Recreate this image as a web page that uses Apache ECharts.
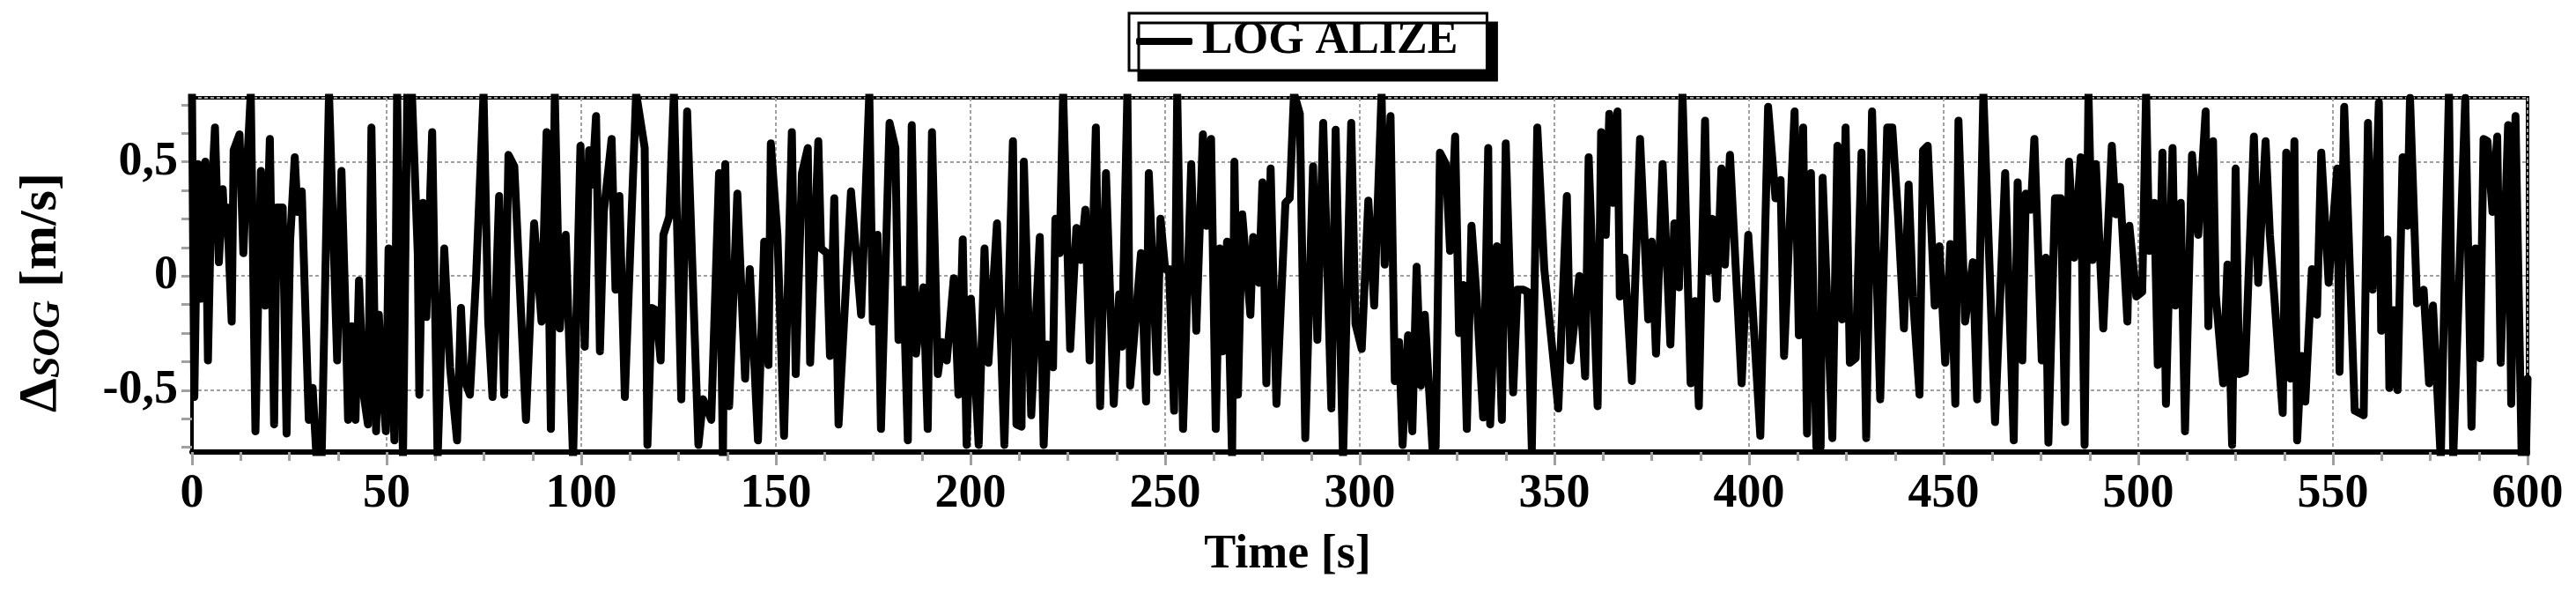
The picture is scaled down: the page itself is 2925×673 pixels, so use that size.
<!DOCTYPE html>
<html>
<head>
    <meta charset="UTF-8">
    <title>LOG ALIZE - Delta SOG</title>
    <script src="https://cdn.jsdelivr.net/npm/echarts/dist/echarts.min.js"></script>
    <style>
        html, body {
            margin: 0;
            padding: 0;
            background-color: #fff;
        }
        #chart {
            width: 2925px;
            height: 673px;
        }
    </style>
</head>
<body>
    <div id="chart"></div>

    <script>
        // [time s, delta SOG m/s], in pieces of about 115 s
        const samples0 = [
            [0, 0.8], [0.6, -0.53], [1.5, 0.49], [2.3, -0.1], [3.4, 0.5], [4.1, -0.37], [4.9, 0.3], [5.9, 0.65],
            [6.9, 0.06], [7.9, 0.38], [8.4, 0.2], [9.0, 0.3], [10.2, -0.2], [10.7, 0.55], [12.2, 0.62], [13.2, 0.1],
            [13.9, 0.4], [15.1, 0.8], [16.3, -0.68], [17.7, 0.46], [18.8, -0.13], [20.0, 0.6], [21.1, -0.65], [21.8, 0.3],
            [23.3, 0.3], [24.3, -0.69], [25.2, 0.15], [26.4, 0.52], [27.1, 0.28], [28.2, 0.37], [30.0, -0.63], [31.0, -0.49],
            [32.0, -0.8], [33.3, -0.8], [35.2, 0.8], [36.1, 0.3], [37.3, -0.37], [38.4, 0.46], [39.5, -0.2], [40.1, -0.63],
            [41.0, -0.22], [42.0, -0.63], [42.9, -0.02], [44.1, -0.52], [45.2, -0.65], [46.1, 0.65], [47.3, -0.68], [48.0, -0.17],
            [48.8, -0.45], [49.8, -0.68], [50.5, 0.12], [52.0, -0.72], [52.7, 0.8], [54.2, -0.8], [55.3, 0.8], [56.5, 0.8],
            [58.0, 0.1], [58.4, -0.52], [59.3, 0.32], [60.2, -0.18], [61.7, 0.63], [63.1, -0.8], [64.8, 0.12], [66.3, -0.4],
            [68.1, -0.72], [69.1, -0.14], [69.9, -0.45], [71.4, -0.52], [73.0, 0.0], [74.9, 0.8], [76.1, -0.2], [77.2, -0.53],
            [78.9, 0.35], [80.2, -0.52], [81.3, 0.53], [82.8, 0.48], [85.8, -0.63], [87.9, 0.23], [89.8, -0.2], [91.1, 0.63],
            [92.2, -0.67], [93.2, 0.8], [94.5, -0.23], [96.0, 0.18], [97.9, -0.8], [99.8, 0.57], [100.9, -0.31], [102.0, 0.55],
            [102.8, 0.4], [103.8, 0.7], [104.8, -0.33], [105.8, 0.28], [107.8, 0.6], [108.8, -0.06], [109.8, 0.35], [111.2, -0.53],
            [113.0, 0.3], [114.1, 0.8]
        ];
        const samples115 = [
            [116.3, 0.56], [117.0, -0.74], [118.1, -0.14], [119.2, -0.15], [120.4, -0.37], [121.1, 0.18], [122.6, 0.26], [123.8, 0.8],
            [125.7, -0.54], [127.2, 0.72], [130.1, -0.74], [131.3, -0.54], [133.4, -0.63], [135.4, 0.45], [136.4, -0.8], [137.0, 0.49],
            [138.0, -0.57], [140.1, 0.36], [142.1, -0.45], [143.3, 0.03], [145.4, -0.72], [147.0, 0.15], [148.1, -0.39], [148.7, 0.58],
            [150.4, 0.18], [152.1, -0.7], [154.1, 0.63], [155.1, -0.43], [156.7, 0.45], [158.2, 0.56], [158.8, -0.38], [160.9, 0.59],
            [161.6, 0.12], [163.1, 0.1], [163.9, -0.35], [165.0, 0.34], [166.1, -0.65], [169.3, 0.37], [171.9, -0.17], [174.0, 0.8],
            [174.9, -0.2], [176.1, 0.18], [177.0, -0.67], [179.2, 0.67], [180.7, 0.56], [181.5, -0.28], [182.8, -0.06], [183.9, -0.72],
            [184.9, 0.66], [186.0, -0.34], [187.9, -0.05], [189.0, -0.67], [190.1, 0.63], [191.6, -0.43], [192.7, -0.29], [193.9, -0.37],
            [195.7, -0.01], [196.9, -0.52], [198.0, 0.16], [199.0, -0.74], [200.1, -0.1], [202.1, -0.74], [203.6, 0.12], [204.6, -0.38],
            [206.8, 0.23], [208.7, -0.74], [210.9, 0.59], [211.8, -0.65], [213.1, -0.66], [213.7, 0.5], [215.6, -0.61], [217.8, 0.17],
            [218.8, -0.74], [219.7, -0.3], [221.2, -0.4], [221.8, 0.25], [222.9, 0.1], [223.8, 0.8], [225.6, -0.32], [227.2, 0.21],
            [228.3, 0.07], [229.5, 0.29], [230.6, -0.37]
        ];
        const samples230 = [
            [232.2, 0.65], [233.3, -0.57], [234.8, 0.45], [236.8, -0.56], [238.2, -0.08], [238.9, -0.31], [240.3, 0.8], [241.0, -0.48],
            [243.8, 0.1], [245.1, -0.55], [245.8, 0.45], [247.9, -0.42], [248.8, 0.25], [250.0, 0.03], [251.0, 0.03], [252.3, -0.59],
            [253.1, 0.8], [254.6, -0.67], [256.7, 0.49], [258.0, -0.24], [259.7, 0.62], [260.6, 0.22], [261.8, 0.6], [263.0, -0.67],
            [264.0, 0.12], [264.8, -0.33], [265.9, 0.15], [267.2, -0.8], [267.8, 0.5], [268.7, -0.52], [269.8, 0.27], [271.9, -0.17],
            [272.6, 0.17], [274.1, -0.03], [275.0, 0.41], [276.0, -0.47], [277.1, 0.47], [278.6, -0.56], [280.9, 0.32], [282.0, 0.34],
            [283.1, 0.8], [284.6, 0.71], [286.0, -0.71], [288.0, 0.48], [289.1, -0.28], [290.6, 0.67], [292.7, -0.58], [293.8, 0.64],
            [295.7, -0.8], [297.8, 0.67], [298.9, -0.21], [300.5, -0.32], [302.2, 0.33], [303.7, -0.13], [305.6, 0.8], [306.4, 0.05],
            [307.9, 0.7], [309.0, -0.46], [310.1, -0.29], [311.0, -0.74], [312.4, -0.26], [313.5, -0.68], [314.6, 0.04], [315.7, -0.48],
            [316.7, -0.17], [318.7, -0.76], [319.5, -0.75], [320.6, 0.54], [322.1, 0.49], [323.2, 0.11], [324.5, 0.61], [325.5, -0.25],
            [326.6, -0.04], [327.5, -0.67], [328.7, 0.22], [330.0, -0.09], [331.7, -0.62], [333.0, 0.56], [333.5, -0.65], [335.2, 0.13],
            [336.5, -0.63], [337.5, 0.58], [339.4, -0.51], [340.5, -0.06], [342.0, -0.06], [343.1, -0.07], [344.2, -0.76], [345.6, 0.65]
        ];
        const samples345 = [
            [347.4, 0.03], [351.0, -0.58], [353.2, 0.35], [354.1, -0.37], [356.4, 0.0], [357.9, -0.44], [358.8, 0.52], [361.1, -0.57],
            [362.0, 0.63], [363.2, 0.18], [364.1, 0.71], [365.0, 0.32], [366.2, 0.72], [366.8, -0.09], [368.0, 0.08], [369.9, -0.46],
            [372.0, 0.6], [374.1, -0.19], [375.0, 0.15], [376.1, -0.34], [377.8, 0.49], [379.8, -0.3], [380.8, 0.23], [382.0, -0.05],
            [382.9, 0.8], [385.0, -0.47], [386.1, -0.11], [387.1, -0.57], [388.7, 0.68], [389.5, 0.02], [390.6, 0.25], [391.7, -0.1],
            [392.9, 0.47], [393.8, 0.05], [395.1, 0.53], [398.1, -0.47], [399.8, 0.18], [402.9, -0.7], [404.9, 0.74], [406.8, 0.34],
            [408.1, 0.42], [409.0, -0.35], [411.7, 0.72], [412.8, -0.26], [413.9, 0.65], [414.9, -0.69], [415.9, 0.45], [417.3, -0.75],
            [418.4, -0.75], [418.9, 0.43], [421.4, -0.71], [422.7, 0.57], [423.9, -0.19], [424.8, 0.65], [425.9, -0.38], [427.4, -0.36],
            [428.9, 0.54], [430.1, -0.71], [431.6, 0.72], [433.7, -0.54], [435.5, 0.65], [436.8, 0.65], [438.3, 0.26], [439.8, -0.23],
            [441.0, 0.4], [442.1, -0.09], [443.8, -0.52], [444.7, 0.55], [445.9, 0.57], [447.7, -0.13], [448.9, 0.13], [450.4, -0.38],
            [451.7, 0.14], [453.0, -0.56], [453.8, 0.68], [455.5, -0.2], [457.5, 0.06], [458.6, -0.54], [460.2, 0.8]
        ];
        const samples460 = [
            [463.2, -0.64], [465.8, 0.45], [468.0, -0.72], [469.0, 0.41], [470.2, -0.37], [471.1, 0.36], [472.4, 0.29], [473.3, 0.6],
            [475.2, -0.37], [476.2, 0.08], [476.9, -0.73], [478.6, 0.34], [480.1, 0.34], [481.2, -0.64], [482.2, 0.5], [483.5, 0.08],
            [485.2, 0.52], [486.2, -0.74], [487.2, 0.8], [488.2, 0.07], [489.1, 0.49], [491.0, -0.23], [493.2, 0.57], [494.2, 0.27],
            [495.3, 0.39], [497.2, -0.2], [497.7, 0.22], [499.5, -0.09], [501.0, -0.07], [502.0, 0.8], [502.8, 0.11], [504.1, 0.32],
            [505.0, -0.39], [506.2, 0.54], [507.1, -0.56], [508.8, 0.56], [509.5, -0.13], [510.9, 0.32], [512.0, -0.68], [513.8, 0.53],
            [515.4, 0.18], [517.3, 0.72], [518.0, -0.22], [519.2, 0.59], [519.9, -0.08], [521.8, -0.47], [522.9, 0.05], [524.1, -0.74],
            [525.0, 0.47], [525.9, -0.43], [527.4, -0.42], [529.7, 0.61], [530.8, -0.03], [532.7, 0.59], [533.8, 0.18], [537.1, -0.6],
            [538.0, 0.54], [539.1, -0.45], [540.1, 0.59], [540.8, -0.72], [541.9, -0.35], [542.9, -0.55], [544.6, 0.03], [545.9, -0.17],
            [547.0, 0.54], [548.9, -0.03], [551.1, 0.47], [551.7, -0.42], [552.9, 0.74], [555.6, -0.59], [557.9, -0.61], [559.0, 0.67],
            [560.2, -0.06]
        ];
        const samples560 = [
            [561.8, 0.76], [562.4, -0.24], [564.0, 0.16], [564.5, -0.49], [565.6, -0.15], [566.6, -0.5], [567.9, 0.52], [569.1, 0.22],
            [569.8, 0.78], [571.6, -0.12], [573.3, -0.06], [574.7, -0.47], [575.7, -0.13], [577.7, -0.8], [579.8, 0.8], [580.9, -0.8],
            [584.0, 0.78], [585.6, -0.66], [586.6, 0.12], [587.8, -0.36], [588.7, 0.6], [589.7, 0.59], [591.0, 0.28], [592.2, 0.61],
            [593.1, -0.38], [595.0, 0.66], [595.8, -0.56], [596.9, 0.7], [598.5, -0.8], [599.6, -0.78], [600, -0.45]
        ];

        const seriesName = 'LOG ALIZE';
        const yTicks = [-0.75, -0.625, -0.5, -0.375, -0.25, -0.125, 0, 0.125, 0.25, 0.375, 0.5, 0.625, 0.75];
        const yLabels = [-0.5, 0, 0.5];

        const FONT = '"Liberation Serif", "Times New Roman", serif';
        const GRID_GRAY = '#a0a0a0';
        const Y_MIN = -0.771;
        const Y_MAX = 0.78;

        const dsog = [].concat(samples0, samples115, samples230, samples345, samples460, samples560);

        const chart = echarts.init(document.getElementById('chart'));

        const labelStyle = {
            fontFamily: FONT,
            fontWeight: 'bold',
            fontSize: 54,
            color: '#000'
        };
        const gridLine = {
            show: true,
            lineStyle: { color: GRID_GRAY, width: 2, type: [4, 3] }
        };

        const option = {
            animation: false,
            backgroundColor: '#fff',
            legend: {
                data: [seriesName],
                left: 1282,
                top: 15,
                icon: 'roundRect',
                itemWidth: 64,
                itemHeight: 8,
                padding: [6, 33, 7, 8],
                backgroundColor: '#fff',
                borderColor: '#000',
                borderWidth: 3,
                borderRadius: 0,
                shadowColor: '#000',
                shadowBlur: 0,
                shadowOffsetX: 11,
                shadowOffsetY: 11,
                textStyle: Object.assign({}, labelStyle, { fontSize: 52, padding: [0, 0, 0, 6] })
            },
            grid: {
                left: 218,
                right: 55,
                top: 111,
                bottom: 160,
                show: true,
                borderColor: '#000',
                borderWidth: 4,
                outerBoundsMode: 'none'
            },
            xAxis: {
                type: 'value',
                min: 0,
                max: 600,
                interval: 50,
                axisLine: { onZero: false, lineStyle: { color: '#000', width: 6 } },
                axisTick: { show: true, length: 15, lineStyle: { color: GRID_GRAY, width: 3 } },
                minorTick: { show: true, splitNumber: 4, length: 10, lineStyle: { color: GRID_GRAY, width: 3 } },
                axisLabel: Object.assign({}, labelStyle, { margin: 21 }),
                splitLine: gridLine,
                name: 'Time [s]',
                nameLocation: 'middle',
                nameGap: 90,
                nameTextStyle: Object.assign({}, labelStyle, { fontSize: 54, padding: [0, 164, 0, 0] })
            },
            yAxis: [{
                type: 'value',
                min: Y_MIN,
                max: Y_MAX,
                splitNumber: 3,
                axisLine: { show: true, lineStyle: { color: '#000', width: 4 } },
                axisTick: { show: false },
                axisLabel: Object.assign({}, labelStyle, {
                    customValues: yLabels,
                    margin: 16,
                    formatter: function (v) { return String(v).replace('.', ','); }
                }),
                splitLine: gridLine,
                name: '{d|Δ}{s|SOG}{u| [m/s]}',
                nameLocation: 'middle',
                nameRotate: 90,
                nameGap: 140,
                nameTextStyle: {
                    padding: [0, 40, 0, 0],
                    rich: {
                        d: { fontFamily: FONT, fontWeight: 'bold', fontSize: 62, color: '#000' },
                        s: {
                            fontFamily: FONT, fontWeight: 'bold', fontStyle: 'italic', fontSize: 44,
                            color: '#000', lineHeight: 26, verticalAlign: 'bottom'
                        },
                        u: { fontFamily: FONT, fontWeight: 'bold', fontSize: 60, color: '#000' }
                    }
                }
            }, {
                // second left axis only for the small ticks every 0.125
                type: 'value',
                position: 'left',
                min: Y_MIN,
                max: Y_MAX,
                axisLine: { show: false },
                axisTick: {
                    show: true,
                    customValues: yTicks,
                    length: 12,
                    lineStyle: { color: GRID_GRAY, width: 3 }
                },
                axisLabel: { show: false },
                splitLine: { show: false }
            }],
            series: [{
                name: seriesName,
                type: 'line',
                data: dsog,
                showSymbol: false,
                symbol: 'none',
                clip: true,
                itemStyle: { color: '#000' },
                lineStyle: { color: '#000', width: 9, cap: 'round', join: 'round' }
            }]
        };

        chart.setOption(option);
    </script>
</body>
</html>
